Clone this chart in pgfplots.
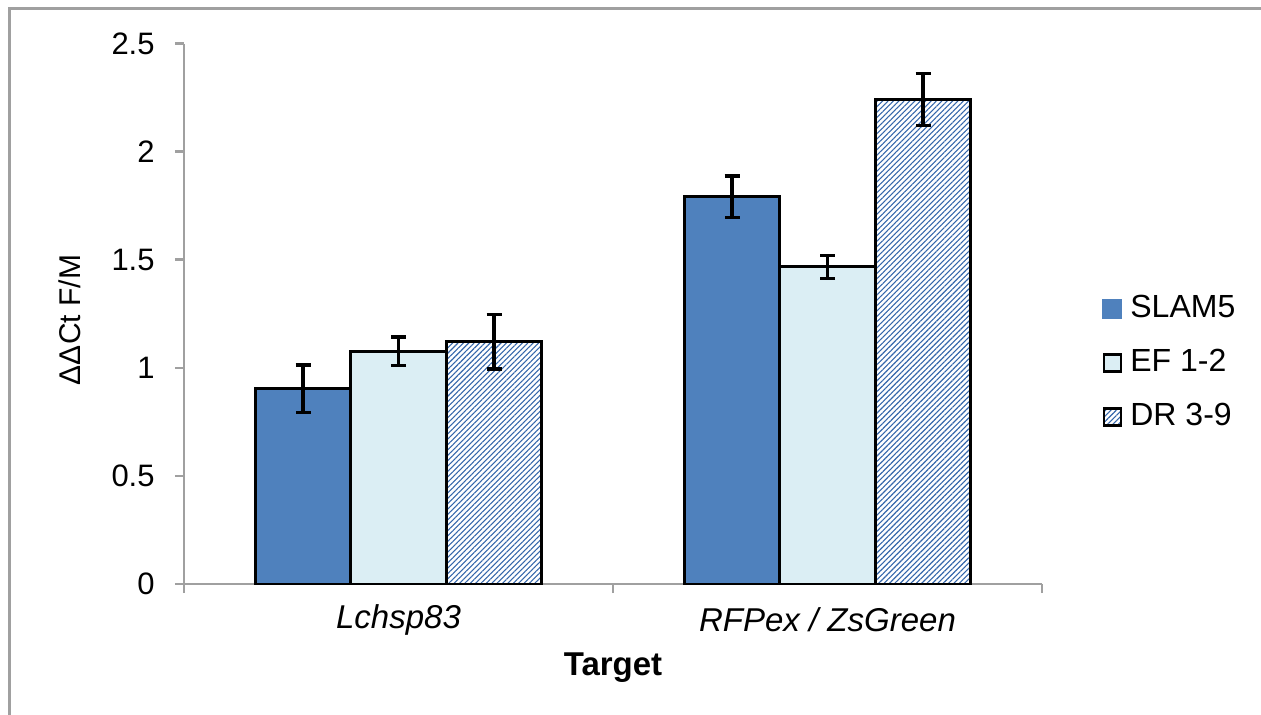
\documentclass[border=0pt]{standalone}
\usepackage{fontspec}
\setmainfont{Liberation Sans}
\usepackage{pgfplots}
\pgfplotsset{compat=1.18}
\usetikzlibrary{patterns.meta}

\definecolor{slam}{HTML}{4F81BD}
\definecolor{ef}{HTML}{DBEEF4}
\definecolor{dr}{HTML}{3466AA}
\definecolor{axgray}{HTML}{A0A0A0}

\begin{document}
\begin{tikzpicture}
% page = 1261 x 715 px, 1 px = 0.5 pt
\path[use as bounding box] (0,0) rectangle (630.5pt,-357.5pt);
\draw[axgray, line width=1.6pt] (4.7pt,-4.2pt) rectangle (660pt,-390pt);

\begin{axis}[
  at={(92pt,-292pt)}, anchor=south west,
  width=429pt, height=270.2pt, scale only axis,
  xmin=-0.5, xmax=1.5, ymin=0, ymax=2.5,
  axis x line*=bottom, axis y line*=left,
  axis line style={-, axgray, line width=1.3pt},
  tick style={axgray, line width=1.3pt},
  tick align=outside,
  major tick length=4.5pt,
  ytick={0,0.5,1,1.5,2,2.5},
  xtick={-0.5,0.5,1.5}, xticklabels={,,},
  extra x ticks={0,1},
  extra x tick labels={\textit{Lchsp83}, \textit{RFPex / ZsGreen}},
  extra x tick style={major tick length=0pt,
    xticklabel style={anchor=center, yshift=-18pt,
      font=\fontsize{16.5}{19}\selectfont}},
  /pgf/number format/assume math mode=true,
  yticklabel style={font=\fontsize{15.5}{18}\selectfont, inner sep=0pt, anchor=east, xshift=-10pt},
  ylabel={ΔΔCt F/M},
  ylabel style={at={(axis description cs:-0.133,0.4885)}, anchor=center,
    font=\fontsize{15}{18}\selectfont},
  xlabel={Target},
  xlabel style={at={(axis description cs:0.5,-0.1554)}, anchor=center,
    font=\bfseries\fontsize{16.5}{19}\selectfont},
  ybar=0pt, bar width=0.2226,
  legend image code/.code={\draw[#1, line width=1.3pt] (0pt,-4.25pt) rectangle (8.5pt,4.25pt);},
  legend style={at={(axis description cs:1.0699,0.409)}, anchor=west,
    draw=none, fill=none, inner sep=0pt, row sep=8pt,
    font=\fontsize{16}{19}\selectfont,
    nodes={inner sep=2pt, text height=12pt, text depth=3pt},
    /tikz/every odd column/.style={column sep=2pt}},
  legend cell align=left,
]

\addplot[fill=slam, draw=black, line width=1.5pt,
  legend image code/.code={\fill[slam] (0pt,-4.25pt) rectangle (8.5pt,4.25pt);},
  error bars/.cd, y dir=both, y explicit,
  error bar style={black, line width=1.8pt},
  error mark options={rotate=90, black, mark size=3.75pt, line width=1.8pt}]
  table[x=x, y=y, y error=e] {
  x y e
  0 0.904 0.110
  1 1.792 0.096
};
\addlegendentry{SLAM5}

\addplot[fill=ef, draw=black, line width=1.5pt,
  error bars/.cd, y dir=both, y explicit,
  error bar style={black, line width=1.8pt},
  error mark options={rotate=90, black, mark size=3.75pt, line width=1.8pt}]
  table[x=x, y=y, y error=e] {
  x y e
  0 1.077 0.066
  1 1.467 0.053
};
\addlegendentry{EF 1-2}

\addplot[pattern={Lines[angle=45, distance=1.9pt, line width=0.55pt]},
  pattern color=dr, draw=black, line width=1.5pt,
  error bars/.cd, y dir=both, y explicit,
  error bar style={black, line width=1.8pt},
  error mark options={rotate=90, black, mark size=3.75pt, line width=1.8pt}]
  table[x=x, y=y, y error=e] {
  x y e
  0 1.121 0.126
  1 2.242 0.120
};
\addlegendentry{DR 3-9}

\end{axis}
\end{tikzpicture}
\end{document}
